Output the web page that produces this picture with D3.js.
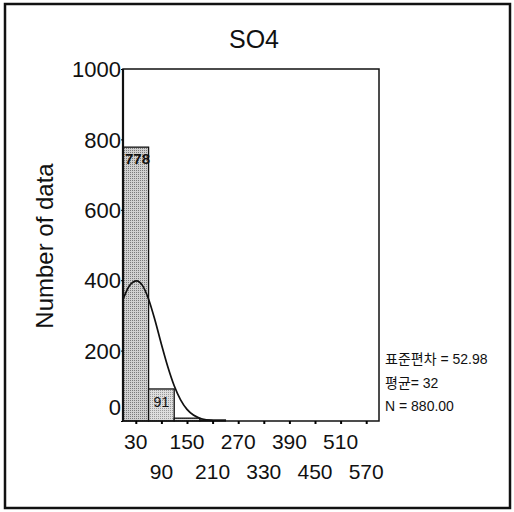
<!DOCTYPE html>
<html>
<head>
<meta charset="utf-8">
<script src="https://cdn.jsdelivr.net/npm/d3@7"></script>
<style>
  body { margin: 0; background: #fff; }
  text { font-family: 'Liberation Sans', Arial, sans-serif; fill: #111; }
  .kr { font-family: 'Liberation Sans', 'Noto Sans CJK KR', sans-serif; }
</style>
</head>
<body>
<div id="chart"></div>
<script>
// histogram bins (width 60) and counts
const binStarts = [0, 60, 120, 180, 240, 300, 360, 420, 480, 540]
const counts = [778, 91, 8, 3, 0, 0, 0, 0, 0, 0]
const barLabels = ['778', '91']

// fitted normal curve
const curveX = [0, 15, 32, 45, 60, 75, 90, 105, 120, 135, 150, 165, 180, 195, 210]
const curveY = [345, 384, 398, 386, 346, 286, 218, 154, 100, 60, 33, 17, 8, 3.5, 1.4]

const yTicks = [0, 200, 400, 600, 800, 1000]
const xTicksTop = [30, 150, 270, 390, 510]
const xTicksBottom = [90, 210, 330, 450, 570]
const statLines = ['표준편차 = 52.98', '평균= 32', 'N = 880.00']

const width = 514
const height = 512
const plot = { left: 123, right: 379, top: 69, bottom: 421 }

const svg = d3.select('#chart')
  .append('svg')
  .attr('width', width)
  .attr('height', height)

// dotted fills for the bars
const defs = svg.append('defs')
const pat = defs.append('pattern')
  .attr('id', 'dots')
  .attr('width', 2)
  .attr('height', 2)
  .attr('patternUnits', 'userSpaceOnUse')
pat.append('rect').attr('width', 2).attr('height', 2).attr('fill', '#d0d0d0')
pat.append('rect').attr('width', 1).attr('height', 1).attr('fill', '#7a7a7a')

const pat2 = defs.append('pattern')
  .attr('id', 'dots2')
  .attr('width', 2)
  .attr('height', 2)
  .attr('patternUnits', 'userSpaceOnUse')
pat2.append('rect').attr('width', 2).attr('height', 2).attr('fill', '#dedede')
pat2.append('rect').attr('width', 1).attr('height', 1).attr('fill', '#999')

// outer frame
svg.append('rect')
  .attr('x', 5).attr('y', 4)
  .attr('width', 505).attr('height', 504)
  .attr('fill', 'none')
  .attr('stroke', '#111')
  .attr('stroke-width', 2.5)

const x = d3.scaleLinear().domain([0, 600]).range([plot.left, plot.right])
const y = d3.scaleLinear().domain([0, 1000]).range([plot.bottom, plot.top])

// bars
svg.selectAll('rect.bar')
  .data(counts.map((c, i) => ({ start: binStarts[i], count: c })).filter(d => d.count > 0))
  .enter()
  .append('rect')
  .attr('class', 'bar')
  .attr('x', d => x(d.start))
  .attr('y', d => y(d.count))
  .attr('width', d => x(d.start + 60) - x(d.start))
  .attr('height', d => y(0) - y(d.count))
  .attr('fill', (d, i) => i === 0 ? 'url(#dots)' : 'url(#dots2)')
  .attr('stroke', '#111')
  .attr('stroke-width', 1.3)

// count labels inside bars
svg.append('text')
  .attr('x', x(binStarts[0]) + 2)
  .attr('y', y(counts[0]) + 17)
  .attr('font-size', 15)
  .attr('font-weight', 'bold')
  .text(barLabels[0])

svg.append('text')
  .attr('x', x(binStarts[1] + 30))
  .attr('y', y(counts[1]) + 18)
  .attr('text-anchor', 'middle')
  .attr('font-size', 14)
  .text(barLabels[1])

// normal curve
const line = d3.line()
  .x((d, i) => x(curveX[i]))
  .y(d => y(d))
  .curve(d3.curveMonotoneX)

svg.append('path')
  .datum(curveY)
  .attr('fill', 'none')
  .attr('stroke', '#111')
  .attr('stroke-width', 1.7)
  .attr('d', line)

// plot frame
svg.append('rect')
  .attr('x', plot.left).attr('y', plot.top)
  .attr('width', plot.right - plot.left)
  .attr('height', plot.bottom - plot.top)
  .attr('fill', 'none')
  .attr('stroke', '#111')
  .attr('stroke-width', 1.5)

svg.append('line')
  .attr('x1', plot.left).attr('x2', plot.left)
  .attr('y1', plot.top).attr('y2', plot.bottom)
  .attr('stroke', '#111')
  .attr('stroke-width', 2.2)

// y axis
const yAxis = svg.append('g')
  .attr('transform', `translate(${plot.left},0)`)
  .call(d3.axisLeft(y).tickValues(yTicks).tickFormat(d3.format('d')).tickSize(2).tickPadding(0))
yAxis.select('.domain').remove()
yAxis.selectAll('text')
  .attr('font-size', 22)
  .attr('fill', '#111')
  .attr('dy', d => d === 0 ? '-0.3em' : '0.35em')

// x axis, ticks every 60 with labels in two rows
const xAxis = svg.append('g')
  .attr('transform', `translate(0,${plot.bottom})`)
  .call(d3.axisBottom(x).tickValues(xTicksTop.concat(xTicksBottom)).tickSize(3).tickFormat(''))
xAxis.select('.domain').remove()
xAxis.selectAll('line').attr('stroke-width', 2)

svg.append('g')
  .selectAll('text')
  .data(xTicksTop)
  .enter()
  .append('text')
  .attr('x', d => x(d))
  .attr('y', 449)
  .attr('text-anchor', 'middle')
  .attr('font-size', 21)
  .text(d => d)

svg.append('g')
  .selectAll('text')
  .data(xTicksBottom)
  .enter()
  .append('text')
  .attr('x', d => x(d))
  .attr('y', 479)
  .attr('text-anchor', 'middle')
  .attr('font-size', 21)
  .text(d => d)

// title and axis label
svg.append('text')
  .attr('x', 254)
  .attr('y', 48)
  .attr('text-anchor', 'middle')
  .attr('font-size', 25)
  .text('SO4')

svg.append('text')
  .attr('transform', 'translate(53,246) rotate(-90)')
  .attr('text-anchor', 'middle')
  .attr('font-size', 24)
  .text('Number of data')

// statistics block
svg.append('g')
  .selectAll('text')
  .data(statLines)
  .enter()
  .append('text')
  .attr('class', 'kr')
  .attr('x', 385)
  .attr('y', (d, i) => 364 + i * 23.5)
  .attr('font-size', 14)
  .text(d => d)
</script>
</body>
</html>
